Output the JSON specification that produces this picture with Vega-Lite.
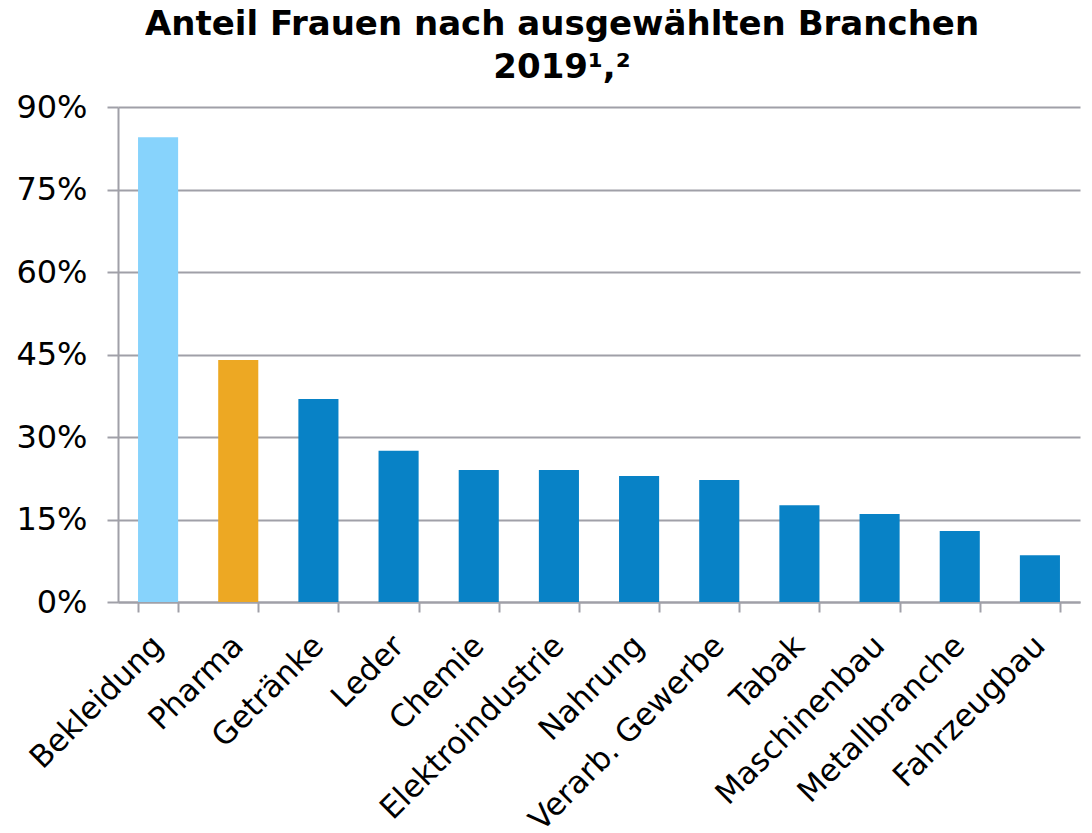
{
  "$schema": "https://vega.github.io/schema/vega-lite/v6.json",
  "width": 962,
  "height": 495,
  "autosize": {"type": "none"},
  "padding": {"left": 118, "top": 107, "right": 12, "bottom": 231},
  "background": "white",
  "title": {
    "text": ["Anteil Frauen nach ausgewählten Branchen", "2019¹,²"],
    "font": "DejaVu Sans",
    "fontSize": 34,
    "fontWeight": "bold",
    "color": "#000000",
    "lineHeight": 43,
    "anchor": "middle",
    "dx": -37,
    "offset": 6
  },
  "data": {
    "values": [
      {"branche": "Bekleidung", "anteil": 0.845, "gruppe": "a"},
      {"branche": "Pharma", "anteil": 0.44, "gruppe": "b"},
      {"branche": "Getränke", "anteil": 0.369, "gruppe": "c"},
      {"branche": "Leder", "anteil": 0.275, "gruppe": "c"},
      {"branche": "Chemie", "anteil": 0.24, "gruppe": "c"},
      {"branche": "Elektroindustrie", "anteil": 0.24, "gruppe": "c"},
      {"branche": "Nahrung", "anteil": 0.229, "gruppe": "c"},
      {"branche": "Verarb. Gewerbe", "anteil": 0.222, "gruppe": "c"},
      {"branche": "Tabak", "anteil": 0.176, "gruppe": "c"},
      {"branche": "Maschinenbau", "anteil": 0.16, "gruppe": "c"},
      {"branche": "Metallbranche", "anteil": 0.129, "gruppe": "c"},
      {"branche": "Fahrzeugbau", "anteil": 0.085, "gruppe": "c"}
    ]
  },
  "mark": {"type": "bar"},
  "encoding": {
    "x": {
      "field": "branche",
      "type": "nominal",
      "sort": null,
      "scale": {"paddingInner": 0.5, "paddingOuter": 0.25},
      "axis": {
        "title": null,
        "labelAngle": -45,
        "labelAlign": "right",
        "labelBaseline": "middle",
        "labelFont": "DejaVu Sans",
        "labelFontSize": 31,
        "labelColor": "#000000",
        "labelPadding": 29,
        "labelLimit": 0,
        "labelOverlap": false,
        "tickBand": "extent",
        "tickColor": "#A0A0A8",
        "tickWidth": 2,
        "tickSize": 10,
        "domainColor": "#A0A0A8",
        "domainWidth": 2,
        "grid": false
      }
    },
    "y": {
      "field": "anteil",
      "type": "quantitative",
      "scale": {"domain": [0, 0.9]},
      "axis": {
        "title": null,
        "values": [0, 0.15, 0.3, 0.45, 0.6, 0.75, 0.9],
        "format": ".0%",
        "labelFont": "DejaVu Sans",
        "labelFontSize": 32,
        "labelColor": "#000000",
        "labelPadding": 20,
        "tickColor": "#A0A0A8",
        "tickWidth": 2,
        "tickSize": 11,
        "domainColor": "#A0A0A8",
        "domainWidth": 2,
        "grid": true,
        "gridColor": "#A0A0A8",
        "gridWidth": 2
      }
    },
    "color": {
      "field": "gruppe",
      "type": "nominal",
      "scale": {"domain": ["a", "b", "c"], "range": ["#87D3FC", "#EDA823", "#0882C6"]},
      "legend": null
    }
  },
  "config": {"view": {"stroke": null}}
}
